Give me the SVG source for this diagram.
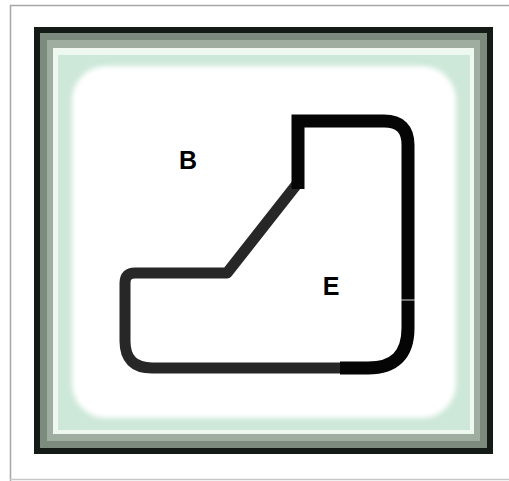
<svg xmlns="http://www.w3.org/2000/svg" width="509" height="481" viewBox="0 0 509 481">
  <defs>
    <filter id="soft" x="-10%" y="-10%" width="120%" height="120%">
      <feGaussianBlur stdDeviation="2.5"/>
    </filter>
    <style>
      .lbl { font-family: "Liberation Sans", Arial, sans-serif; font-weight: bold; font-size: 25px; fill: #000; text-anchor: middle; }
      .outline { fill: none; stroke-linecap: butt; }
    </style>
  </defs>
  <rect x="0" y="0" width="509" height="481" fill="#ffffff"/>
  <g id="border">
    <path d="M10.5 481 L10.5 5.5 L509 5.5" fill="none" stroke="#a6a6a6" stroke-width="1.5"/>
    <line x1="10" y1="479.5" x2="509" y2="479.5" stroke="#c8c8c8" stroke-width="1.5"/>
  </g>
  <g id="frame">
    <rect x="37" y="30" width="453" height="421" fill="#7c8b7d" stroke="#141a15" stroke-width="6"/>
    <rect x="47" y="40" width="433" height="401" fill="#9fada0"/>
    <rect x="53" y="48" width="421" height="386" fill="#eef8f1"/>
    <rect x="58" y="55" width="412" height="375" fill="#cde8d8"/>
    <rect x="72" y="66" width="384" height="352" rx="34" ry="34" fill="#ffffff" filter="url(#soft)"/>
  </g>
  <g id="shape">
    <path class="outline" d="M342 368 L152 368 Q125 368 125 341 L125 283 Q125 273 135 273 L227 273 L297 184" stroke="#272727" stroke-width="11" stroke-linejoin="round"/>
    <path class="outline" d="M298 189 L298 121 L384 121 Q408 121 408 145 L408 328 Q408 368 368 368 L340 368" stroke="#050505" stroke-width="13" stroke-linejoin="miter"/>
    <line x1="401" y1="300" x2="415" y2="300" stroke="#d8dcd8" stroke-width="1"/>
  </g>
  <g id="label-B"><text class="lbl" x="188" y="169">B</text></g>
  <g id="label-E"><text class="lbl" x="331" y="295">E</text></g>
</svg>
